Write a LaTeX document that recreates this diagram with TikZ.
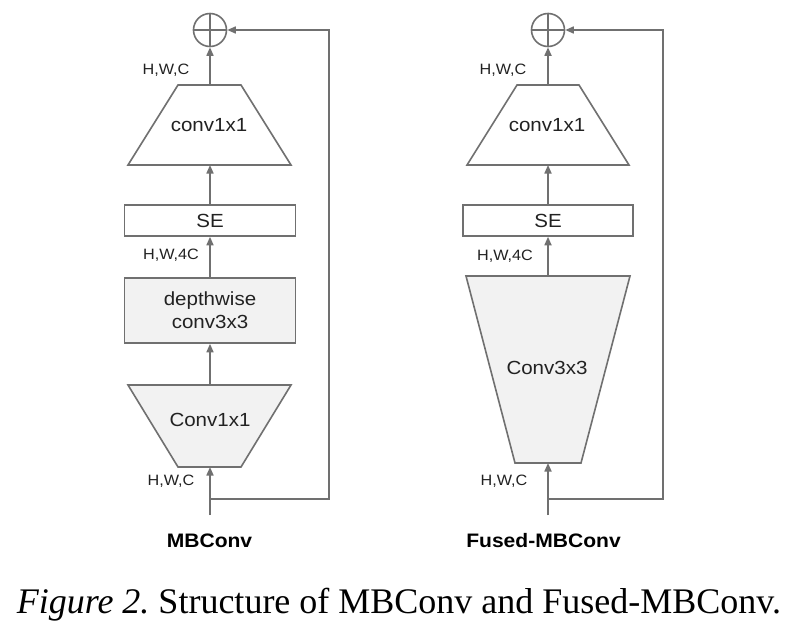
\documentclass[tikz,border=0pt]{standalone}
\usepackage{fontspec}
\setmainfont{Liberation Serif}
\newfontfamily\arialf[FakeStretch=1.08]{Liberation Sans}
\usetikzlibrary{arrows.meta}
\definecolor{ln}{HTML}{707070}
\definecolor{fl}{HTML}{F2F2F2}
\definecolor{tx}{HTML}{222222}
\begin{document}
\begin{tikzpicture}[x=1pt,y=-1pt,
  line/.style={draw=ln,line width=1.6pt},
  arr/.style={line,-{Triangle[length=8.5pt,width=7pt]}},
  lbl/.style={font=\arialf\fontsize{19}{23}\selectfont,text=tx,align=center},
  dim/.style={font=\arialf\fontsize{15}{18}\selectfont,text=tx},
  ttl/.style={font=\arialf\bfseries\fontsize{19.5}{23}\selectfont,text=black},
  box/.style={line,rectangle,inner sep=0pt,lbl},
  addc/.style={line,circle,minimum size=33pt,inner sep=0pt},
  trap/.style={line,line join=miter}
]
\useasboundingbox (0,0) rectangle (800,630);
\fill[white] (0,0) rectangle (800,630);

% ---------------- MBConv ----------------
\node[addc] (addL) at (210,30) {};
\draw[line] (addL.north) -- (addL.south) (addL.west) -- (addL.east);
\draw[trap,fill=white] (178,85) -- (241,85) -- (291,165) -- (128,165) -- cycle;
\coordinate (tLtop) at (210,85);
\coordinate (tLbot) at (210,165);
\node[lbl] (tLtxt) at (209,125) {conv1x1};
\node[box,fill=white,minimum width=171pt,minimum height=31pt] (seL) at (210,220.5) {SE};
\node[box,fill=fl,minimum width=171pt,minimum height=65pt] (dwL) at (210,310.5) {depthwise\\conv3x3};
\draw[trap,fill=fl] (128,385) -- (291,385) -- (241,467) -- (178,467) -- cycle;
\coordinate (bLtop) at (210,385);
\coordinate (bLbot) at (210,467);
\node[lbl] (bLtxt) at (210,420) {Conv1x1};
\coordinate (inL) at (210,515);
\coordinate (skL1) at (210,499);
\coordinate (skL2) at (329,499);
\coordinate (skL3) at (329,30);
\draw[arr] (inL) -- (bLbot);
\draw[arr] (bLtop) -- (dwL.south);
\draw[arr] (dwL.north) -- (seL.south);
\draw[arr] (seL.north) -- (tLbot);
\draw[arr] (tLtop) -- (addL.south);
\draw[arr] (skL1) -- (skL2) -- (skL3) -- (addL.east);
\node[dim] (dL1) at (166,70) {H,W,C};
\node[dim] (dL2) at (171,255) {H,W,4C};
\node[dim] (dL3) at (171,481) {H,W,C};
\node[ttl] (tL) at (209.5,541) {MBConv};

% ---------------- Fused-MBConv ----------------
\node[addc] (addR) at (548,30) {};
\draw[line] (addR.north) -- (addR.south) (addR.west) -- (addR.east);
\draw[trap,fill=white] (517,85) -- (579,85) -- (629,165) -- (467,165) -- cycle;
\coordinate (tRtop) at (548,85);
\coordinate (tRbot) at (548,165);
\node[lbl] (tRtxt) at (547,125) {conv1x1};
\node[box,fill=white,minimum width=170pt,minimum height=31pt] (seR) at (548,220.5) {SE};
\draw[trap,fill=fl] (466,276) -- (630,276) -- (581,463) -- (515,463) -- cycle;
\coordinate (cRtop) at (548,276);
\coordinate (cRbot) at (548,463);
\node[lbl] (cRtxt) at (547,368) {Conv3x3};
\coordinate (inR) at (548,515);
\coordinate (skR1) at (548,499);
\coordinate (skR2) at (663,499);
\coordinate (skR3) at (663,30);
\draw[arr] (inR) -- (cRbot);
\draw[arr] (cRtop) -- (seR.south);
\draw[arr] (seR.north) -- (tRbot);
\draw[arr] (tRtop) -- (addR.south);
\draw[arr] (skR1) -- (skR2) -- (skR3) -- (addR.east);
\node[dim] (dR1) at (503,70) {H,W,C};
\node[dim] (dR2) at (505,256) {H,W,4C};
\node[dim] (dR3) at (504,481) {H,W,C};
\node[ttl] (tR) at (543.5,541) {Fused-MBConv};

% caption
\node[font=\fontsize{36}{40}\selectfont,text=black,inner sep=0pt,anchor=base] (cap) at (399,613) {\textit{Figure 2.}\ Structure of MBConv and Fused-MBConv.};
\end{tikzpicture}
\end{document}
